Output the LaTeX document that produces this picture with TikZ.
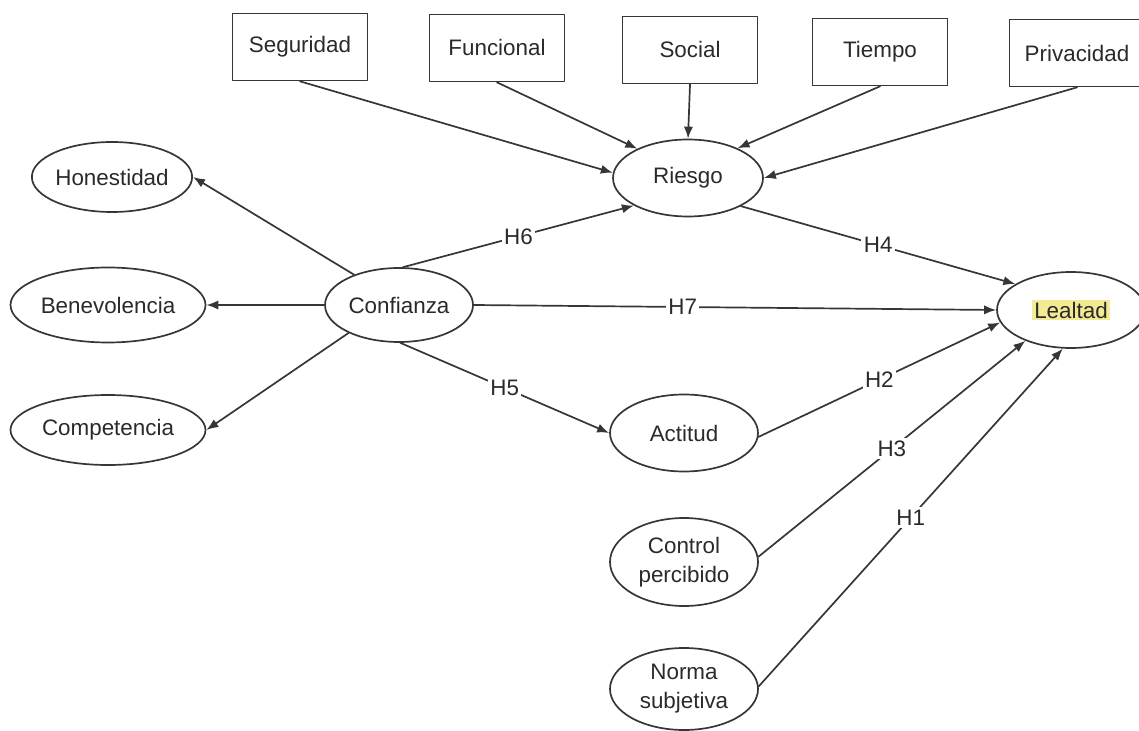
\documentclass[tikz,border=0pt]{standalone}
\usepackage{fontspec}
\setmainfont{Liberation Sans}
\usepackage{xcolor}
\usepackage{tikz}
\usetikzlibrary{positioning,shapes.geometric,arrows.meta}

\definecolor{trazo}{HTML}{363636}
\definecolor{texto}{HTML}{2A2A2A}
\definecolor{resalte}{HTML}{F4EA94}

\begin{document}
\begin{tikzpicture}[x=0.5pt,y=-0.5pt, font=\fontsize{11.2}{14.5}\selectfont, line cap=round, line join=round]
	% ===== marco =====
	\useasboundingbox (0,0) rectangle (1139,731);
	
	% ===== estilos =====
	\tikzset{
		caja/.style={draw=trazo, line width=0.85pt, minimum width=67.5pt, minimum height=33.5pt, inner sep=2pt, text=texto},
		elip/.style n args={2}{draw=trazo, line width=0.85pt, ellipse, inner sep=0pt, align=center, text=texto, minimum width=#1, minimum height=#2},
		flecha/.style={draw=trazo, line width=0.85pt, -{Latex[length=6pt,width=4.6pt]}},
		hip/.style={fill=white, inner sep=1.2pt, text=texto}
	}
	
	% ===== dimensiones del riesgo =====
	\node[caja] (seg) at (300,47) {Seguridad};
	\node[caja] (fun) at (497,48) {Funcional};
	\node[caja] (soc) at (690,50) {Social};
	\node[caja] (tie) at (880,52) {Tiempo};
	\node[caja] (pri) at (1077,53) {Privacidad};
	
	% ===== constructos =====
	\node[elip={73.5pt}{35pt}] (hon) at (112,177) {Honestidad};
	\node[elip={97.5pt}{37.5pt}] (ben) at (108,305) {Benevolencia};
	\node[elip={97.5pt}{35pt}] (com) at (108,430) {Competencia};
	\node[elip={74pt}{37pt}] (con) at (399,305) {Confianza};
	\node[elip={75pt}{38.5pt}] (rie) at (688,178) {Riesgo};
	\node[elip={74pt}{38pt}] (lea) at (1071,310) {{\setlength{\fboxsep}{1pt}\colorbox{resalte}{Lealtad}}};
	\node[elip={74pt}{38.5pt}] (act) at (684,433) {Actitud};
	\node[elip={74pt}{44pt}] (cpe) at (684,562) {Control\\percibido};
	\node[elip={74pt}{41pt}] (nsu) at (684,689) {Norma\\subjetiva};
	
	% ===== flechas hacia riesgo =====
	\draw[flecha] (seg.south) -- (rie.176);
	\draw[flecha] (fun.south) -- (rie.150);
	\draw[flecha] (soc.south) -- (rie.north);
	\draw[flecha] (tie.south) -- (rie.31);
	\draw[flecha] (pri.south) -- (rie.0);
	
	% ===== dimensiones de confianza =====
	\draw[flecha] (con.146) -- (hon.east);
	\draw[flecha] (con.west) -- (ben.east);
	\draw[flecha] (con.209) -- (com.east);
	
	% ===== hipotesis =====
	\draw[flecha] (con.84) -- node[hip] {H6} (rie.207);
	\draw[flecha] (rie.332) -- node[hip] {H4} (lea.155);
	\draw[flecha] (con.east) -- node[hip, pos=0.4] {H7} (lea.west);
	\draw[flecha] (con.272) -- node[hip] {H5} (act.west);
	\draw[flecha] (act.357) -- node[hip] {H2} (lea.190);
	\draw[flecha] (cpe.4) -- node[hip] {H3} (lea.214);
	\draw[flecha] (nsu.2) -- node[hip] {H1} (lea.258);
\end{tikzpicture}
\end{document}
